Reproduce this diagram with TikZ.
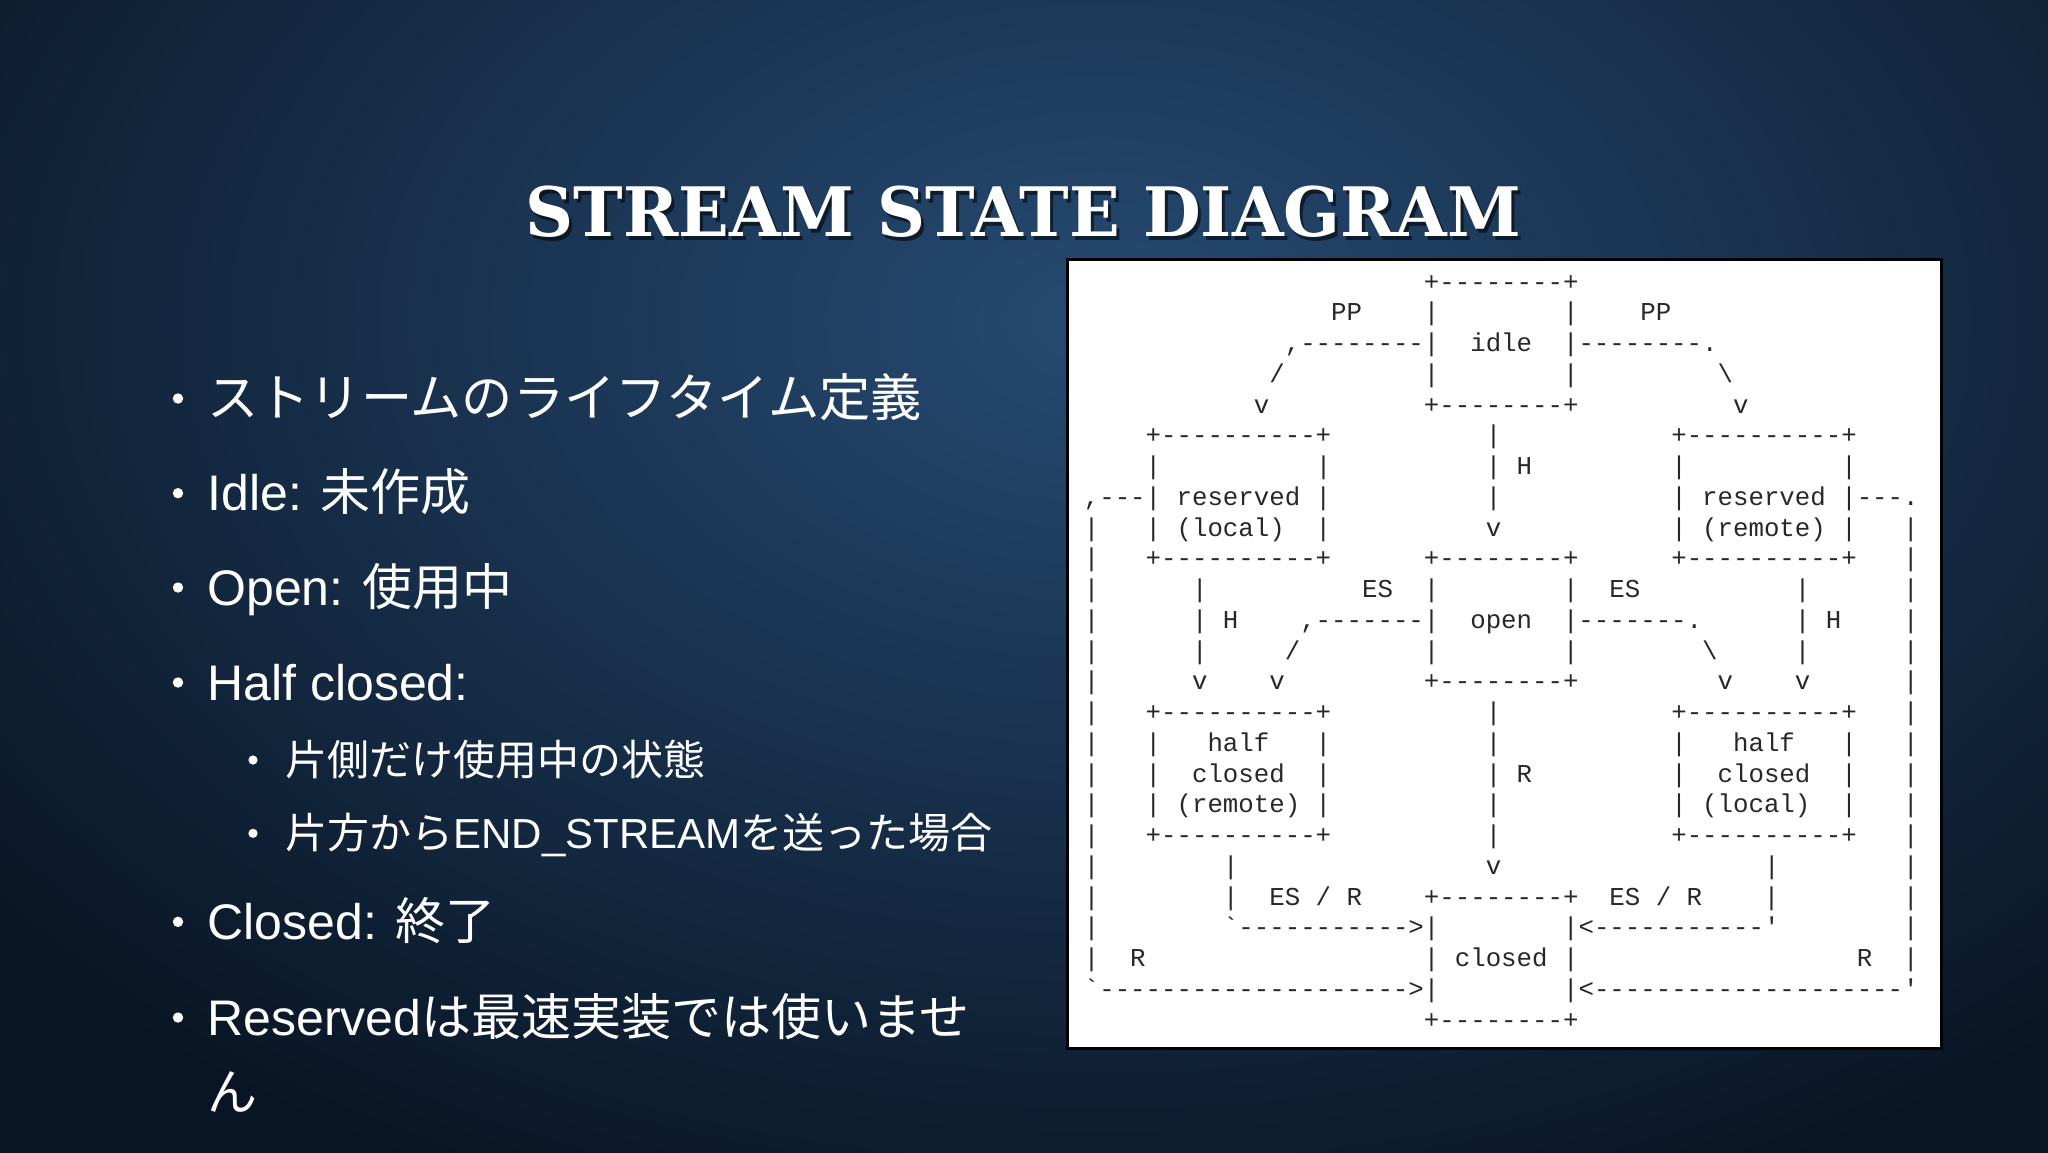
\documentclass[tikz,border=0pt]{standalone}
\usepackage{fontspec}
\usepackage{graphicx}
\setmonofont{Liberation Mono}
\newfontfamily\latfont{Liberation Sans}
\newfontfamily\jpfont{Noto Sans CJK JP}
\newfontfamily\ttlfont{DejaVu Serif}
\definecolor{bgouter}{RGB}{9,21,36}
\definecolor{bginner}{RGB}{38,74,114}
\definecolor{asciigray}{RGB}{40,40,40}
\newcommand\gapc[1]{\kern#1\fontcharwd\font`x\relax}
\newcommand\bs{\textbackslash}
\tikzset{
  ascii/.style={anchor=base west, inner sep=0pt, text=asciigray, font=\fontsize{12.88pt}{15pt}\ttfamily},
  mainitem/.style={anchor=base west, inner sep=0pt, text=white, font=\fontsize{25pt}{30pt}\latfont},
  subitem/.style={anchor=base west, inner sep=0pt, text=white, font=\fontsize{21pt}{25pt}\latfont},
  titletext/.style={anchor=base west, inner sep=0pt}
}
\begin{document}
\begin{tikzpicture}[x=0.5pt,y=-0.5pt]
\useasboundingbox (0,0) rectangle (2048,1152);
% background
\fill[bgouter] (-20,-20) rectangle (2068,1172);
\begin{scope}
  \clip (-20,-20) rectangle (2068,1172);
  \shade[inner color=bginner, outer color=bgouter] (1100,320) ellipse [x radius=720pt, y radius=480pt];
\end{scope}
% title
\node[titletext, text=black, opacity=0.55] (titleshadow) at (528,240.5) {\resizebox{498pt}{25.3pt}{\ttlfont\bfseries STREAM STATE DIAGRAM}};
\node[titletext, text=white] (title) at (525,236.7) {\resizebox{498pt}{25.3pt}{\ttlfont\bfseries STREAM STATE DIAGRAM}};
% bullets
\fill[white] (178,398.5) circle [radius=2.6pt];
\fill[white] (178,493.2) circle [radius=2.6pt];
\fill[white] (178,587.5) circle [radius=2.6pt];
\fill[white] (178,682.5) circle [radius=2.6pt];
\fill[white] (253,760) circle [radius=2.3pt];
\fill[white] (253,833.3) circle [radius=2.3pt];
\fill[white] (178,921.8) circle [radius=2.6pt];
\fill[white] (178,1017.5) circle [radius=2.6pt];
\node[mainitem] (b1) at (207,416) {\fontsize{25.6pt}{30pt}\jpfont ストリームのライフタイム定義};
\node[mainitem] (b2) at (207,510.7) {Idle: \jpfont 未作成};
\node[mainitem] (b3) at (207,605) {Open: \jpfont 使用中};
\node[mainitem] (b4) at (207,700) {Half closed:};
\node[subitem] (s1) at (285,775) {\jpfont 片側だけ使用中の状態};
\node[subitem] (s2) at (285,848.3) {\jpfont 片方から\latfont END\_STREAM\jpfont を送った場合};
\node[mainitem] (b5) at (207,939.3) {Closed: \jpfont 終了};
\node[mainitem] (b6) at (207,1035) {Reserved\jpfont は最速実装では使いませ};
\node[mainitem] (b6b) at (207,1110) {\jpfont ん};
% diagram panel
\draw[line width=1.5pt, fill=white] (1067,259.5) rectangle (1941.5,1048.5);
\node[ascii] (a0) at (1068,290) {\gapc{23}+--------+};
\node[ascii] (a1) at (1068,320.75) {\gapc{17}PP\gapc{4}|\gapc{8}|\gapc{4}PP};
\node[ascii] (a2) at (1068,351.5) {\gapc{14},--------|\gapc{2}idle\gapc{2}|--------.};
\node[ascii] (a3) at (1068,382.25) {\gapc{13}/\gapc{9}|\gapc{8}|\gapc{9}\bs};
\node[ascii] (a4) at (1068,413) {\gapc{12}v\gapc{10}+--------+\gapc{10}v};
\node[ascii] (a5) at (1068,443.75) {\gapc{5}+----------+\gapc{10}|\gapc{11}+----------+};
\node[ascii] (a6) at (1068,474.5) {\gapc{5}|\gapc{10}|\gapc{10}|\gapc{1}H\gapc{9}|\gapc{10}|};
\node[ascii] (a7) at (1068,505.25) {\gapc{1},---|\gapc{1}reserved\gapc{1}|\gapc{10}|\gapc{11}|\gapc{1}reserved\gapc{1}|---.};
\node[ascii] (a8) at (1068,536) {\gapc{1}|\gapc{3}|\gapc{1}(local)\gapc{2}|\gapc{10}v\gapc{11}|\gapc{1}(remote)\gapc{1}|\gapc{3}|};
\node[ascii] (a9) at (1068,566.75) {\gapc{1}|\gapc{3}+----------+\gapc{6}+--------+\gapc{6}+----------+\gapc{3}|};
\node[ascii] (a10) at (1068,597.5) {\gapc{1}|\gapc{6}|\gapc{10}ES\gapc{2}|\gapc{8}|\gapc{2}ES\gapc{10}|\gapc{6}|};
\node[ascii] (a11) at (1068,628.25) {\gapc{1}|\gapc{6}|\gapc{1}H\gapc{4},-------|\gapc{2}open\gapc{2}|-------.\gapc{6}|\gapc{1}H\gapc{4}|};
\node[ascii] (a12) at (1068,659) {\gapc{1}|\gapc{6}|\gapc{5}/\gapc{8}|\gapc{8}|\gapc{8}\bs\gapc{5}|\gapc{6}|};
\node[ascii] (a13) at (1068,689.75) {\gapc{1}|\gapc{6}v\gapc{4}v\gapc{9}+--------+\gapc{9}v\gapc{4}v\gapc{6}|};
\node[ascii] (a14) at (1068,720.5) {\gapc{1}|\gapc{3}+----------+\gapc{10}|\gapc{11}+----------+\gapc{3}|};
\node[ascii] (a15) at (1068,751.25) {\gapc{1}|\gapc{3}|\gapc{3}half\gapc{3}|\gapc{10}|\gapc{11}|\gapc{3}half\gapc{3}|\gapc{3}|};
\node[ascii] (a16) at (1068,782) {\gapc{1}|\gapc{3}|\gapc{2}closed\gapc{2}|\gapc{10}|\gapc{1}R\gapc{9}|\gapc{2}closed\gapc{2}|\gapc{3}|};
\node[ascii] (a17) at (1068,812.75) {\gapc{1}|\gapc{3}|\gapc{1}(remote)\gapc{1}|\gapc{10}|\gapc{11}|\gapc{1}(local)\gapc{2}|\gapc{3}|};
\node[ascii] (a18) at (1068,843.5) {\gapc{1}|\gapc{3}+----------+\gapc{10}|\gapc{11}+----------+\gapc{3}|};
\node[ascii] (a19) at (1068,874.25) {\gapc{1}|\gapc{8}|\gapc{16}v\gapc{17}|\gapc{8}|};
\node[ascii] (a20) at (1068,905) {\gapc{1}|\gapc{8}|\gapc{2}ES\gapc{1}/\gapc{1}R\gapc{4}+--------+\gapc{2}ES\gapc{1}/\gapc{1}R\gapc{4}|\gapc{8}|};
\node[ascii] (a21) at (1068,935.75) {\gapc{1}|\gapc{8}`----------->|\gapc{8}|<-----------'\gapc{8}|};
\node[ascii] (a22) at (1068,966.5) {\gapc{1}|\gapc{2}R\gapc{18}|\gapc{1}closed\gapc{1}|\gapc{18}R\gapc{2}|};
\node[ascii] (a23) at (1068,997.25) {\gapc{1}`-------------------->|\gapc{8}|<--------------------'};
\node[ascii] (a24) at (1068,1028) {\gapc{23}+--------+};
\end{tikzpicture}
\end{document}
